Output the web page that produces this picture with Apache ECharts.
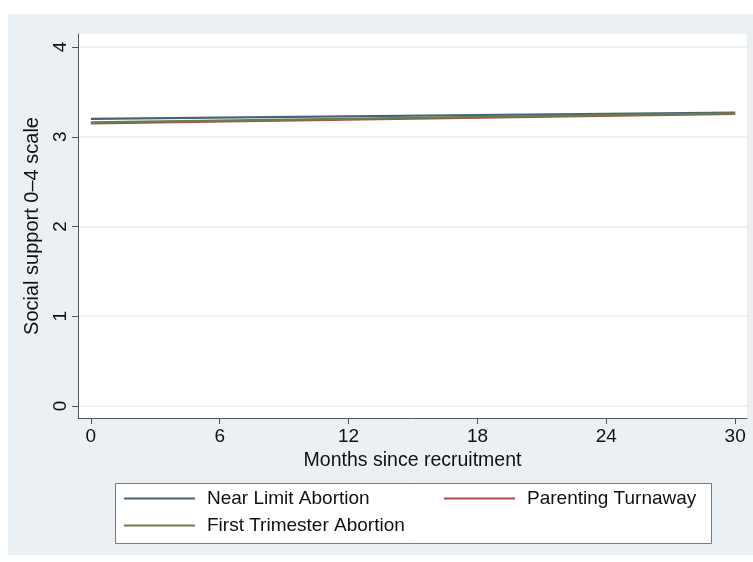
<!DOCTYPE html>
<html>
<head>
<meta charset="utf-8">
<script src="https://cdn.jsdelivr.net/npm/echarts@6/dist/echarts.min.js"></script>
<style>
html,body{margin:0;padding:0;background:#ffffff;}
#bg{position:absolute;left:8px;top:14px;width:745px;height:541px;background:#eaf0f3;}
#chart{position:absolute;left:0;top:0;width:753px;height:562px;}
</style>
</head>
<body>
<div id="bg"></div>
<div id="chart"></div>
<script>
// Data
const months = [0, 30];
const nearLimit = [3.20, 3.27];
const parenting = [3.15, 3.255];
const firstTri = [3.16, 3.26];
const xTicks = [0, 6, 12, 18, 24, 30];
const yTicks = [0, 1, 2, 3, 4];
const seriesNames = ['Near Limit Abortion', 'Parenting Turnaway', 'First Trimester Abortion'];
const colors = ['#46627f', '#a94a4f', '#6b7e45'];

const FONT = 'Liberation Sans, Arial, sans-serif';
const chart = echarts.init(document.getElementById('chart'), null, {renderer: 'canvas'});

function pairs(xs, ys) { return xs.map((x, i) => [x, ys[i]]); }

const legendCommon = {
  padding: 0,
  itemWidth: 71,
  itemHeight: 2,
  icon: 'rect',
  z: 6,
  textStyle: {fontFamily: FONT, fontSize: 19, color: '#111', padding: [0, 0, 0, 7]},
  selectedMode: false
};

chart.setOption({
  backgroundColor: 'transparent',
  animation: false,
  color: colors,
  grid: {left: 78, right: 6, top: 34, bottom: 144, show: true, backgroundColor: '#ffffff', borderWidth: 0, containLabel: false},
  xAxis: {
    type: 'value', min: -0.6, max: 30.55,
    name: 'Months since recruitment', nameLocation: 'middle', nameGap: 32,
    nameTextStyle: {fontFamily: FONT, fontSize: 19.5, color: '#111'},
    axisLine: {show: true, onZero: false, lineStyle: {color: '#555', width: 1}},
    axisTick: {show: true, length: 6, lineStyle: {color: '#555'}, customValues: xTicks},
    axisLabel: {fontFamily: FONT, fontSize: 19, color: '#111', margin: 9, customValues: xTicks},
    splitLine: {show: false}
  },
  yAxis: {
    type: 'value', min: -0.134, max: 4.145,
    name: 'Social support 0–4 scale', nameLocation: 'middle', nameGap: 36,
    nameTextStyle: {fontFamily: FONT, fontSize: 20, color: '#111'},
    axisLine: {show: true, onZero: false, lineStyle: {color: '#555', width: 1}},
    axisTick: {show: true, length: 6, lineStyle: {color: '#555'}, customValues: yTicks},
    axisLabel: {fontFamily: FONT, fontSize: 19, color: '#111', margin: 8, rotate: 90, customValues: yTicks},
    splitLine: {show: true, lineStyle: {color: '#eaeff2', width: 1.5}}
  },
  legend: [
    Object.assign({}, legendCommon, {data: [seriesNames[0]], left: 124, top: 489}),
    Object.assign({}, legendCommon, {data: [seriesNames[1]], left: 444, top: 489}),
    Object.assign({}, legendCommon, {data: [seriesNames[2]], left: 124, top: 516})
  ],
  graphic: [{
    type: 'rect', z: 1,
    shape: {x: 115.5, y: 483.5, width: 596, height: 60},
    style: {fill: '#ffffff', stroke: '#7a7a7a', lineWidth: 1}
  }],
  series: [
    {name: seriesNames[0], type: 'line', data: pairs(months, nearLimit), showSymbol: false, lineStyle: {width: 2.2, color: colors[0]}, itemStyle: {color: colors[0]}},
    {name: seriesNames[1], type: 'line', data: pairs(months, parenting), showSymbol: false, lineStyle: {width: 2.2, color: colors[1]}, itemStyle: {color: colors[1]}},
    {name: seriesNames[2], type: 'line', data: pairs(months, firstTri), showSymbol: false, lineStyle: {width: 2.2, color: colors[2]}, itemStyle: {color: colors[2]}}
  ]
});
</script>
</body>
</html>
